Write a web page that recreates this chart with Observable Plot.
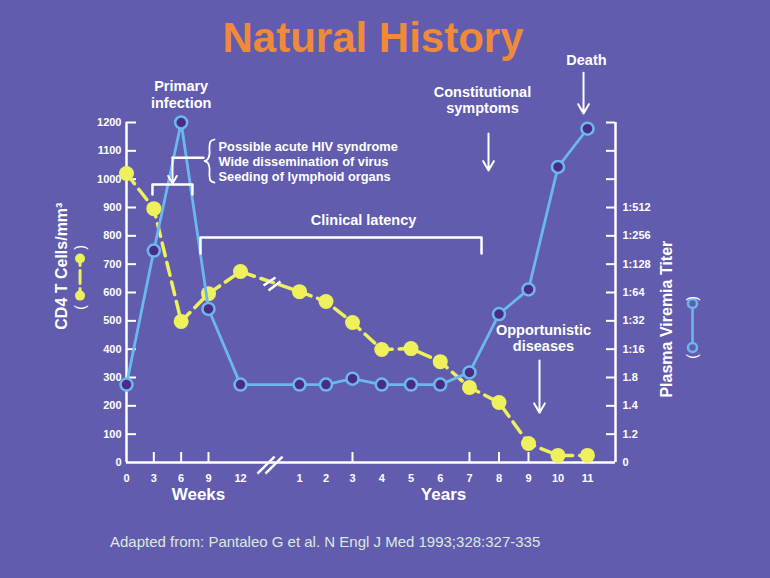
<!DOCTYPE html>
<html><head><meta charset="utf-8">
<script src="https://cdn.jsdelivr.net/npm/d3@7"></script>
<script src="https://cdn.jsdelivr.net/npm/@observablehq/plot@0.6"></script>
<style>
html,body{margin:0;padding:0;background:#615cae;}
#wrap{position:relative;width:770px;height:578px;overflow:hidden;font-family:"Liberation Sans",Arial,sans-serif;}
#chart{position:absolute;left:0;top:0;}
#title{position:absolute;left:0;top:17px;width:746px;text-align:center;font-size:42px;line-height:42px;font-weight:bold;color:#ef8a3b;}
#caption{position:absolute;left:110px;top:534px;font-size:15px;line-height:15px;color:#dde8e0;white-space:nowrap;}
</style></head><body>
<div id="wrap">
  <div id="chart"></div>
  <div id="title">Natural History</div>
  <div id="caption">Adapted from: Pantaleo G et al. N Engl J Med 1993;328:327-335</div>
</div>
<script>
// ---- data ----
const periods = ["Weeks","Weeks","Weeks","Weeks","Weeks","Years","Years","Years","Years","Years","Years","Years","Years","Years","Years","Years"];
const times = [0,3,6,9,12,1,2,3,4,5,6,7,8,9,10,11];
const cd4Cells = [1020,896,498,596,674,603,568,494,399,402,356,265,212,67,25,25];
// viremia titer, expressed in the shared vertical units of the chart
const viremiaLevel = [275,748,1200,542,275,275,275,296,275,275,275,318,524,611,1043,1178];
const leftTickValues = [0,100,200,300,400,500,600,700,800,900,1000,1100,1200];
const rightTickLabels = ["0","1.2","1.4","1.8","1:16","1:32","1:64","1:128","1:256","1:512","","",""];
const bottomTickIndex = [1,2,3,7,11,12,13]; // 3, 6, 9 weeks; years 3, 7, 8, 9

const toWeeks = (p, t) => p === "Weeks" ? t : t * 52;
const rows = times.map((t, i) => ({w: toWeeks(periods[i], t), label: String(t), cd4: cd4Cells[i], vir: viremiaLevel[i]}));
const xLabel = new Map(rows.map(d => [d.w, d.label]));
const rightLabel = new Map(leftTickValues.map((v, i) => [v, rightTickLabels[i]]));

const white = "#ffffff", yellow = "#eef05c", blue = "#6cb8ee", dark = "#4a2c86", bg = "#615cae";
const END = 622; // right edge of the broken time axis (weeks)

const annotations = [
  {x: 6, y: 1300, text: "Primary\ninfection"},
  {x: 175.6, y: 858, text: "Clinical latency"},
  {x: 386.9, y: 1281, text: "Constitutional\nsymptoms"},
  {x: 570.2, y: 1422, text: "Death"},
  {x: 494.4, y: 441, text: "Opportunistic\ndiseases"}
];
const arrows = [
  {x1: 5.05, y1: 1076, x2: 5.05, y2: 985},
  {x1: 397.5, y1: 1161, x2: 397.5, y2: 1031},
  {x1: 565, y1: 1376, x2: 565, y2: 1232},
  {x1: 487.4, y1: 360, x2: 487.4, y2: 176}
];
const brackets = [
  {k: "a", x: 2.85, y: 946}, {k: "a", x: 2.85, y: 981}, {k: "a", x: 7.24, y: 981}, {k: "a", x: 7.24, y: 946},
  {k: "b", x: 8.12, y: 738}, {k: "b", x: 8.12, y: 794}, {k: "b", x: 385.2, y: 794}, {k: "b", x: 385.2, y: 738},
  {k: "c", x: 8.45, y: 1076}, {k: "c", x: 5.05, y: 1076}
];
const brace = [
  {x: 9.56, y: 1140}, {x: 9.19, y: 1133}, {x: 9.09, y: 1115}, {x: 9.09, y: 1087}, {x: 8.89, y: 1069},
  {x: 8.56, y: 1064}, {x: 8.89, y: 1059}, {x: 9.09, y: 1041}, {x: 9.09, y: 1013}, {x: 9.19, y: 995}, {x: 9.56, y: 988}
];
const breaks = [
  {x1: 27.6, y1: 625, x2: 35.7, y2: 653}, {x1: 31.0, y1: 607, x2: 39.1, y2: 639},
  {x1: 23.5, y1: -39, x2: 35.1, y2: 21}, {x1: 28.9, y1: -39, x2: 40.5, y2: 21}
];
const braceLines = "Possible acute HIV syndrome\nWide dissemination of virus\nSeeding of lymphoid organs";

const chart = Plot.plot({
  width: 770, height: 578,
  marginTop: 122, marginBottom: 116, marginLeft: 126, marginRight: 155,
  style: {background: "transparent", color: white, fontFamily: "'Liberation Sans', Arial, sans-serif", overflow: "visible"},
  x: {type: "linear", domain: [0, 9, 12, 52, 156, 364, 572, END], range: [126, 208, 240, 299, 352, 469, 587, 615]},
  y: {type: "linear", domain: [0, 1200], range: [462, 122]},
  marks: [
    // frame lines
    Plot.ruleY([0], {x1: 0, x2: END, stroke: white, strokeWidth: 2.5}),
    Plot.ruleX([0, END], {y1: 0, y2: 1200, stroke: white, strokeWidth: 2.5}),
    // inward ticks
    Plot.ruleY(leftTickValues.slice(1), {x1: 0, x2: 0, insetRight: -10, stroke: white, strokeWidth: 2}),
    Plot.ruleY(leftTickValues.slice(1), {x1: END, x2: END, insetLeft: -9, stroke: white, strokeWidth: 2}),
    Plot.ruleX(bottomTickIndex.map(i => rows[i].w), {y1: 0, y2: 0, insetTop: -10, stroke: white, strokeWidth: 2}),
    // axis labels
    Plot.axisY(leftTickValues, {anchor: "left", tickSize: 0, tickPadding: 5, fontSize: 11, fontWeight: "bold", label: null, tickFormat: d => String(d)}),
    Plot.axisY(leftTickValues, {anchor: "right", tickSize: 0, tickPadding: 7, fontSize: 11, fontWeight: "bold", label: null, tickFormat: d => rightLabel.get(d)}),
    Plot.axisX(rows.map(d => d.w), {anchor: "bottom", tickSize: 0, tickPadding: 12, fontSize: 11, fontWeight: "bold", label: null, tickFormat: d => xLabel.get(d)}),
    Plot.text(["Weeks"], {x: 7.9, y: -113, text: d => d, fontSize: 17, fontWeight: "bold", fill: white}),
    Plot.text(["Years"], {x: 317.8, y: -113, text: d => d, fontSize: 17, fontWeight: "bold", fill: white}),
    Plot.text(["CD4 T Cells/mm³"], {x: -7.13, y: 693, text: d => d, rotate: -90, fontSize: 16, fontWeight: "bold", fill: white}),
    Plot.text(["Plasma Viremia Titer"], {x: 714, y: 506, text: d => d, rotate: -90, fontSize: 16, fontWeight: "bold", fill: white}),
    // legend keys next to axis titles
    Plot.line([{x: -5.1, y: 589}, {x: -5.1, y: 720}], {x: "x", y: "y", stroke: yellow, strokeWidth: 3, strokeDasharray: "7,5,13,5,7"}),
    Plot.dot([{x: -5.1, y: 589}, {x: -5.1, y: 720}], {x: "x", y: "y", r: 5, fill: yellow}),
    Plot.text([{x: -5.1, y: 547, t: "("}, {x: -5.1, y: 759, t: ")"}], {x: "x", y: "y", text: "t", rotate: -90, fontSize: 14, fill: white}),
    Plot.line([{x: 759.5, y: 406}, {x: 759.5, y: 561}], {x: "x", y: "y", stroke: blue, strokeWidth: 2.5}),
    Plot.dot([{x: 759.5, y: 406}, {x: 759.5, y: 561}], {x: "x", y: "y", r: 4.5, fill: bg, stroke: blue, strokeWidth: 2.5}),
    Plot.text([{x: 759.5, y: 374, t: "("}, {x: 759.5, y: 579, t: ")"}], {x: "x", y: "y", text: "t", rotate: -90, fontSize: 14, fill: white}),
    // series
    Plot.line(rows, {x: "w", y: "cd4", stroke: yellow, strokeWidth: 3.5, strokeDasharray: "13,7"}),
    Plot.dot(rows, {x: "w", y: "cd4", r: 7.5, fill: yellow}),
    Plot.line(rows, {x: "w", y: "vir", stroke: blue, strokeWidth: 2.8}),
    Plot.dot(rows, {x: "w", y: "vir", r: 6, fill: dark, stroke: blue, strokeWidth: 2.5}),
    // breaks
    Plot.link(breaks, {x1: "x1", y1: "y1", x2: "x2", y2: "y2", stroke: white, strokeWidth: 2.5}),
    // annotations
    Plot.line(brackets, {x: "x", y: "y", z: "k", stroke: white, strokeWidth: 2.5}),
    Plot.line(brace, {x: "x", y: "y", stroke: white, strokeWidth: 1.8, curve: "catmull-rom"}),
    Plot.arrow(arrows, {x1: "x1", y1: "y1", x2: "x2", y2: "y2", stroke: white, strokeWidth: 2, headLength: 8}),
    Plot.text(annotations, {x: "x", y: "y", text: "text", fontSize: 14.5, fontWeight: "bold", lineHeight: 1.17, fill: white}),
    Plot.text([braceLines], {x: 9.94, y: 1064, text: d => d, textAnchor: "start", fontSize: 12.8, fontWeight: "bold", lineHeight: 1.21, fill: white})
  ]
});
document.getElementById("chart").appendChild(chart);
</script>
</body></html>
